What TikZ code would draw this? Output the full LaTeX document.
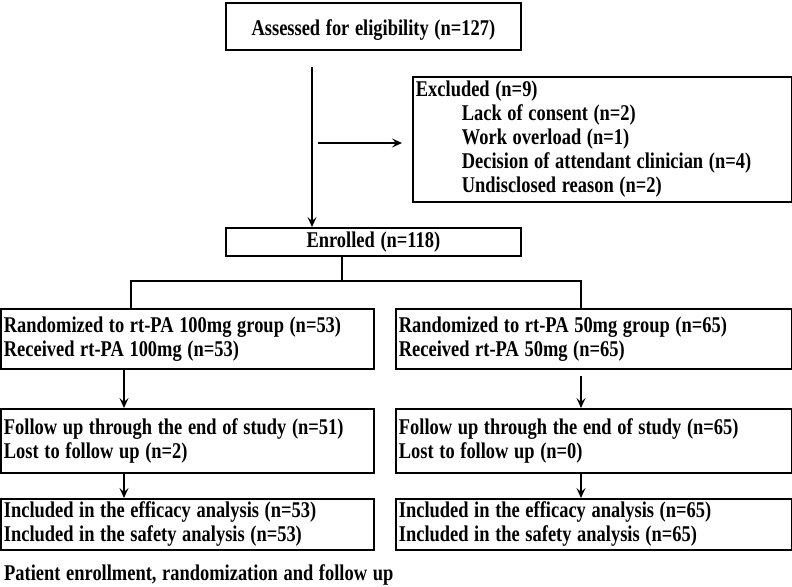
\documentclass[tikz,border=0pt]{standalone}
\usepackage{fontspec}
\setmainfont{Liberation Serif}
\newfontfamily\flowfont[FakeStretch=0.82]{Liberation Serif}
\newcommand\flowtext{\flowfont\fontsize{22.5}{24}\selectfont\bfseries\spaceskip=0.25em\relax}
\usetikzlibrary{arrows.meta}

\tikzset{
  box/.style={draw, line width=1.8pt, rectangle, inner xsep=3pt, inner ysep=0pt,
    anchor=north west, align=flush left, font=\flowtext},
  link/.style={line width=1.5pt},
  arr/.style={line width=1.5pt, -{Stealth[length=10pt,width=9pt,inset=4pt]}}
}

\begin{document}
\begin{tikzpicture}[x=1pt,y=-1pt]
\useasboundingbox (0,0) rectangle (792,586);

% Boxes
\node[box, minimum width=295pt, minimum height=47pt, align=center] (assess) at (225,2)
  {\raisebox{-9pt}[0pt][0pt]{Assessed for eligibility (n=127)}};
\node[box, minimum width=379pt, minimum height=125pt, text width=373pt] (excl) at (412,76)
  {Excluded (n=9)\\
   \hspace*{46pt}Lack of consent (n=2)\\
   \hspace*{46pt}Work overload (n=1)\\
   \hspace*{46pt}Decision of attendant clinician (n=4)\\
   \hspace*{46pt}Undisclosed reason (n=2)};
\node[box, minimum width=295pt, minimum height=28pt, align=center] (enr) at (225,227)
  {Enrolled (n=118)};

% Two arms
\node[box, minimum width=373pt, minimum height=60pt, text width=367pt] (randL) at (0,308)
  {Randomized to rt-PA 100mg group (n=53)\\Received rt-PA 100mg (n=53)};
\node[box, minimum width=396pt, minimum height=60pt, text width=390pt] (randR) at (395,308)
  {Randomized to rt-PA 50mg group (n=65)\\Received rt-PA 50mg (n=65)};
\node[box, minimum width=373pt, minimum height=64pt, text width=367pt] (folL) at (0,408)
  {Follow up through the end of study (n=51)\\Lost to follow up (n=2)};
\node[box, minimum width=396pt, minimum height=64pt, text width=390pt] (folR) at (395,408)
  {Follow up through the end of study (n=65)\\Lost to follow up (n=0)};
\node[box, minimum width=373pt, minimum height=51pt, text width=367pt] (incL) at (0,498)
  {Included in the efficacy analysis (n=53)\\Included in the safety analysis (n=53)};
\node[box, minimum width=396pt, minimum height=51pt, text width=390pt] (incR) at (395,498)
  {Included in the efficacy analysis (n=65)\\Included in the safety analysis (n=65)};

% Caption
\node[anchor=west, inner sep=0pt, font=\flowtext] (cap) at (4,575)
  {Patient enrollment, randomization and follow up};

% Connectors
\coordinate (down) at (312,67);
\coordinate (side) at (318,143);
\coordinate (split) at (342,281);
\coordinate (barL) at (131,281);
\coordinate (barR) at (581,281);
\coordinate (colL) at (124,0);

\draw[arr] (down) -- (down |- enr.north);
\draw[arr, shorten >=10pt] (side) -- (side -| excl.west);
\draw[link] (enr.south -| split) -- (split);
\draw[link] (barL |- randL.north) -- (barL) -- (barR) -- (barR |- randR.north);
\draw[arr] (randL.south -| colL) -- (folL.north -| colL);
\draw[arr, shorten <=6pt] (randR.south -| barR) -- (folR.north -| barR);
\draw[arr] (folL.south -| colL) -- (incL.north -| colL);
\draw[arr] (folR.south -| barR) -- (incR.north -| barR);
\end{tikzpicture}
\end{document}
